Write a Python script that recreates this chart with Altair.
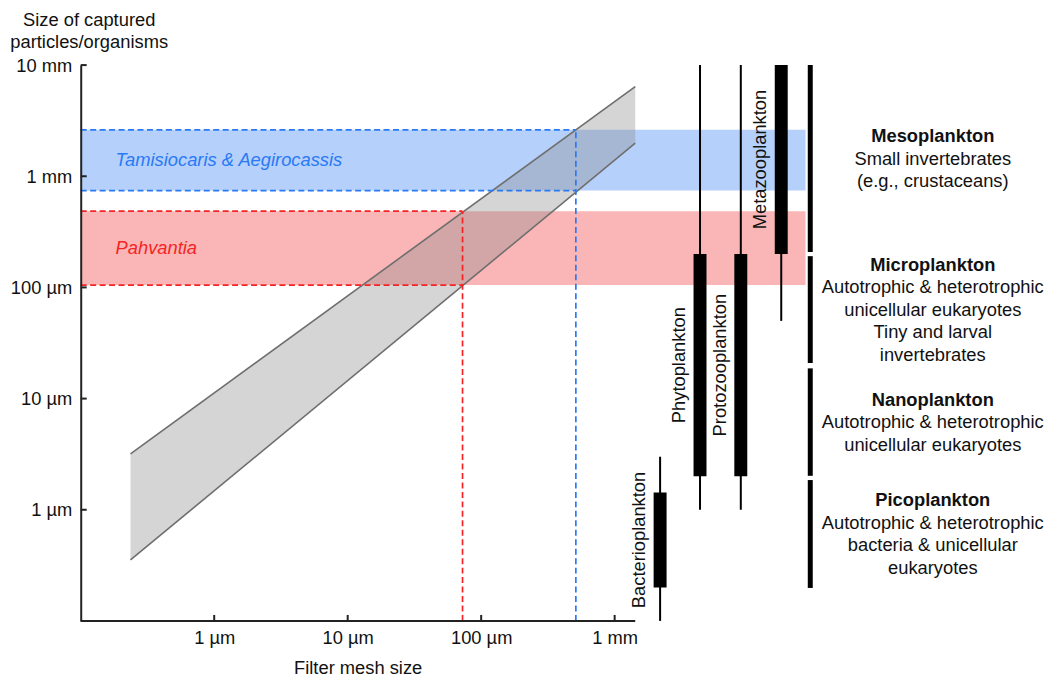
import altair as alt
import pandas as pd

FONT = "Liberation Sans"
FS = 18.4
LH = 22.6

# ---- axes (values in micrometres) ----
y_tick_values = [1, 10, 100, 1000, 10000]
x_tick_values = [1, 10, 100, 1000]
x_axis_end = 1426

# ---- grey capture band (filter mesh -> captured size) ----
band_mesh = [0.236, 1426]
band_upper = [3.18, 6400]
band_lower = [0.354, 1987]

# ---- taxa ----
species = ["Tamisiocaris & Aegirocassis", "Pahvantia"]
species_mesh = [512, 72.5]
species_lo = [743, 105]
species_hi = [2616, 485]
species_fill = ["#b5d0fa", "#fab6b6"]
species_ink = ["#2a7af5", "#f52424"]
band_x_end = 26900

# ---- plankton groups ----
groups = ["Bacterioplankton", "Phytoplankton", "Protozooplankton", "Metazooplankton"]
group_x = [2190, 4360, 8810, 17700]
group_lo = [0.1, 1, 1, 50]
group_hi = [3, 10000, 10000, 10000]
group_core_lo = [0.2, 2, 2, 200]
group_core_hi = [1.43, 200, 200, 10000]

# ---- size classes ----
classes = ["Mesoplankton", "Microplankton", "Nanoplankton", "Picoplankton"]
class_desc = [
    ["Small invertebrates", "(e.g., crustaceans)"],
    ["Autotrophic & heterotrophic", "unicellular eukaryotes", "Tiny and larval", "invertebrates"],
    ["Autotrophic & heterotrophic", "unicellular eukaryotes"],
    ["Autotrophic & heterotrophic", "bacteria & unicellular", "eukaryotes"],
]
class_lo = [208, 20.9, 2.02, 0.198]
class_hi = [10000, 191, 18.7, 1.85]
class_x = 29200

# ---- scales & axes ----
xs = alt.Scale(type="log", domain=[0.1, 1e6], nice=False)
ys = alt.Scale(type="log", domain=[0.1, 10000], nice=False)
label_expr = ("datum.value >= 1000 ? format(datum.value / 1000, 'd') + ' mm' "
              ": format(datum.value, 'd') + ' µm'")

x_axis = alt.Axis(values=x_tick_values, labelExpr=label_expr, domain=False, ticks=False,
                  tickSize=0, grid=False, labelPadding=8, labelFontSize=FS, labelFont=FONT,
                  labelColor="#111", labelFlush=False, labelOverlap=False,
                  title="Filter mesh size", titleX=278, titleY=53, titleBaseline="alphabetic",
                  titleAlign="center", titleFontWeight="normal", titleFontSize=FS,
                  titleFont=FONT, titleColor="#111")
y_axis = alt.Axis(values=y_tick_values, labelExpr=label_expr, domain=True, domainColor="#222",
                  domainWidth=2, ticks=False, tickSize=0, grid=False, labelPadding=9,
                  labelFontSize=FS, labelFont=FONT, labelColor="#111", labelFlush=False,
                  labelOverlap=False, zindex=1,
                  title=["Size of captured", "particles/organisms"], titleAngle=0,
                  titleAlign="center", titleBaseline="alphabetic", titleX=8, titleY=-40,
                  titleLineHeight=22, titleFontWeight="normal", titleFontSize=FS,
                  titleFont=FONT, titleColor="#111")


def X(f):
    return alt.X(f, type="quantitative", scale=xs, axis=x_axis)


def Y(f):
    return alt.Y(f, type="quantitative", scale=ys, axis=y_axis)


# ---- data frames ----
sp_df = pd.DataFrame({"name": species, "mesh": species_mesh, "lo": species_lo,
                      "hi": species_hi, "fill": species_fill, "ink": species_ink,
                      "x0": 0.1, "x1": band_x_end})

dash_rows = []
for n, m, lo, hi, ink in zip(species, species_mesh, species_lo, species_hi, species_ink):
    dash_rows.append({"xa": 0.1, "xb": m, "ya": lo, "yb": lo, "ink": ink})
    dash_rows.append({"xa": 0.1, "xb": m, "ya": hi, "yb": hi, "ink": ink})
    dash_rows.append({"xa": m, "xb": m, "ya": 0.1, "yb": hi, "ink": ink})
dash_df = pd.DataFrame(dash_rows)

area_df = pd.DataFrame({"mesh": band_mesh, "upper": band_upper, "lower": band_lower})

axis_df = pd.DataFrame({"x0": [0.1], "x1": [x_axis_end], "y0": [0.1]})
ytick_df = pd.DataFrame({"v": y_tick_values, "x0": 0.1})
xtick_df = pd.DataFrame({"v": x_tick_values, "y0": 0.1})

grp_df = pd.DataFrame({"g": groups, "gx": group_x, "lo": group_lo, "hi": group_hi,
                       "clo": group_core_lo, "chi": group_core_hi})

cls_df = pd.DataFrame({
    "name": classes,
    "desc": ["\n".join(d) for d in class_desc],
    "n": [1 + len(d) for d in class_desc],
    "lo": class_lo, "hi": class_hi, "cx": class_x})

# ---- layers ----
bands = alt.Chart(sp_df).mark_rect().encode(
    x=X("x0"), x2="x1", y=Y("lo"), y2="hi", color=alt.Color("fill:N", scale=None))

dashes = alt.Chart(dash_df).mark_rule(strokeDash=[6, 3.5], strokeWidth=1.7).encode(
    x=X("xa"), x2="xb", y=Y("ya"), y2="yb", color=alt.Color("ink:N", scale=None))

area = alt.Chart(area_df).mark_area(color="#8a8a8a", opacity=0.36).encode(
    x=X("mesh"), y=Y("upper"), y2="lower")

edges = alt.Chart(area_df).transform_fold(["upper", "lower"], as_=["edge", "size"]).mark_line(
    color="#6e6e6e", strokeWidth=1.6).encode(x=X("mesh"), y=Y("size"), detail="edge:N")

sp_text = alt.Chart(sp_df).transform_calculate(ym="sqrt(datum.lo * datum.hi)").mark_text(
    align="left", baseline="middle", dx=35, fontSize=FS, font=FONT, fontStyle="italic").encode(
    x=X("x0"), y=Y("ym"), text="name:N", color=alt.Color("ink:N", scale=None))

x_line = alt.Chart(axis_df).mark_rule(color="#222", strokeWidth=2).encode(
    x=X("x0"), x2="x1", y=Y("y0"))
y_ticks = alt.Chart(ytick_df).mark_rule(color="#222", strokeWidth=2, x2Offset=6).encode(
    x=X("x0"), x2="x0", y=Y("v"))
x_ticks = alt.Chart(xtick_df).mark_rule(color="#222", strokeWidth=2, y2Offset=-6).encode(
    x=X("v"), y=Y("y0"), y2="y0")

g_thin = alt.Chart(grp_df).mark_rule(color="#000", strokeWidth=2).encode(
    x=X("gx"), y=Y("lo"), y2="hi")
g_thick = alt.Chart(grp_df).mark_rule(color="#000", strokeWidth=13).encode(
    x=X("gx"), y=Y("clo"), y2="chi")
g_text = alt.Chart(grp_df).transform_calculate(ym="sqrt(datum.clo * datum.chi)").mark_text(
    angle=270, align="center", baseline="middle", dy=-21, fontSize=FS, font=FONT,
    color="#111").encode(x=X("gx"), y=Y("ym"), text="g:N")

c_rule = alt.Chart(cls_df).mark_rule(color="#000", strokeWidth=5).encode(
    x=X("cx"), y=Y("lo"), y2="hi")

# class labels: a text block centred on each bar (bold name line, then description lines)
c_layers = []
for n_lines in sorted(set(cls_df["n"])):
    top = -(n_lines - 1) / 2 * LH
    base = alt.Chart(cls_df).transform_filter(f"datum.n == {n_lines}").transform_calculate(
        ym="sqrt(datum.lo * datum.hi)")
    c_layers.append(base.mark_text(
        align="center", baseline="middle", dx=123, dy=top, fontSize=FS, font=FONT,
        fontWeight="bold", color="#111").encode(x=X("cx"), y=Y("ym"), text="name:N"))
    c_layers.append(base.mark_text(
        align="center", baseline="middle", dx=123, dy=top + LH, fontSize=FS, font=FONT,
        lineBreak="\n", lineHeight=LH, color="#111").encode(x=X("cx"), y=Y("ym"), text="desc:N"))

chart = alt.layer(
    bands, area, edges, dashes, sp_text, x_line, y_ticks, x_ticks,
    g_thin, g_thick, g_text, c_rule, *c_layers
).properties(
    width=938, height=558,
    padding={"left": 1, "top": 1, "right": 0, "bottom": 0}
).configure(font=FONT).configure_view(stroke=None)

chart.save("out.html", embed_options={"renderer": "svg", "actions": False})
